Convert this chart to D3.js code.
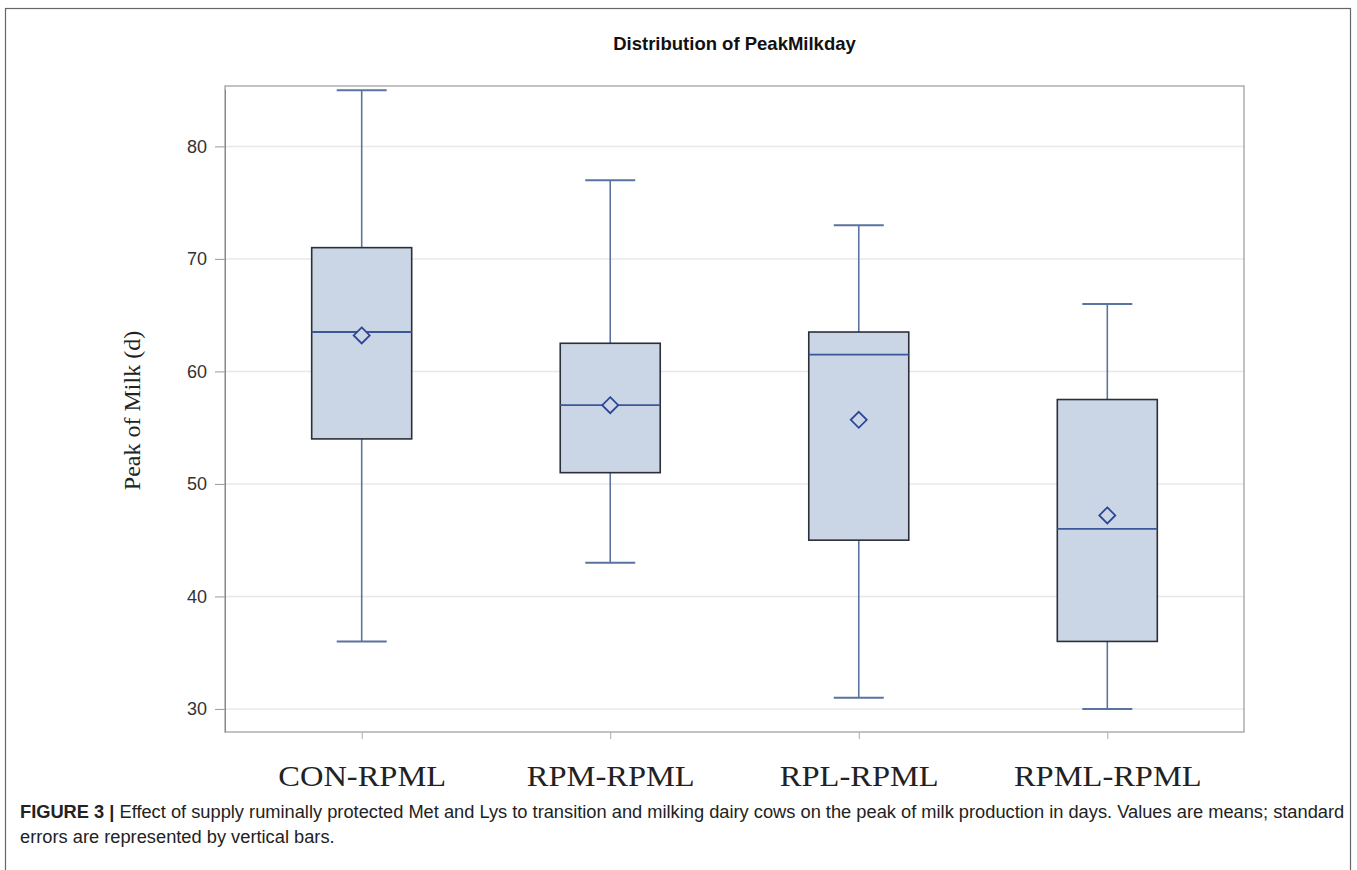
<!DOCTYPE html>
<html>
<head>
<meta charset="utf-8">
<script src="https://cdn.jsdelivr.net/npm/d3@7"></script>
<style>
  body { margin: 0; background: #fff; }
</style>
</head>
<body>
<div id="chart"></div>
<script>
// box plot values
const groups = ["CON-RPML", "RPM-RPML", "RPL-RPML", "RPML-RPML"];
const mins = [36, 43, 31, 30];
const q1s = [54, 51, 45, 36];
const medians = [63.5, 57, 61.5, 46];
const q3s = [71, 62.5, 63.5, 57.5];
const maxs = [85, 77, 73, 66];
const means = [63.2, 57, 55.7, 47.2];
const yTicks = [30, 40, 50, 60, 70, 80];

const W = 1357, H = 870;
const plot = { left: 225, right: 1244, top: 89, bottom: 732 };

const svg = d3.select("#chart").append("svg")
    .attr("width", W)
    .attr("height", H);

// outer frame
svg.append("rect")
    .attr("x", 5.5).attr("y", 8.5)
    .attr("width", 1345).attr("height", 870)
    .attr("fill", "none")
    .attr("stroke", "#666")
    .attr("stroke-width", 1.2);

const x = d3.scalePoint()
    .domain(groups)
    .range([plot.left, plot.right])
    .padding(0.55);

const y = d3.scaleLinear()
    .domain([27.95, 85.1])
    .range([plot.bottom, plot.top]);

// gridlines
svg.append("g").selectAll("line")
    .data(yTicks)
    .enter().append("line")
    .attr("x1", plot.left).attr("x2", plot.right)
    .attr("y1", d => y(d)).attr("y2", d => y(d))
    .attr("stroke", "#e8e8e8")
    .attr("stroke-width", 1.5);

// title
svg.append("text")
    .attr("x", (plot.left + plot.right) / 2)
    .attr("y", 50)
    .attr("text-anchor", "middle")
    .attr("font-family", "Liberation Sans, Arial, sans-serif")
    .attr("font-weight", "bold")
    .attr("font-size", 18.5)
    .attr("fill", "#111")
    .text("Distribution of PeakMilkday");

const data = groups.map((g, i) => ({
    name: g, min: mins[i], q1: q1s[i], med: medians[i], q3: q3s[i], max: maxs[i], mean: means[i]
}));

const boxW = 100, capW = 50;
const whiskerColor = "#5b73a0";
const boxes = svg.append("g").selectAll("g")
    .data(data)
    .enter().append("g")
    .attr("transform", d => `translate(${x(d.name)},0)`);

// whiskers
boxes.append("line")
    .attr("x1", 0).attr("x2", 0)
    .attr("y1", d => y(d.max)).attr("y2", d => y(d.q3))
    .attr("stroke", whiskerColor).attr("stroke-width", 1.6);
boxes.append("line")
    .attr("x1", 0).attr("x2", 0)
    .attr("y1", d => y(d.q1)).attr("y2", d => y(d.min))
    .attr("stroke", whiskerColor).attr("stroke-width", 1.6);
// caps
boxes.append("line")
    .attr("x1", -capW / 2).attr("x2", capW / 2)
    .attr("y1", d => y(d.max)).attr("y2", d => y(d.max))
    .attr("stroke", whiskerColor).attr("stroke-width", 2);
boxes.append("line")
    .attr("x1", -capW / 2).attr("x2", capW / 2)
    .attr("y1", d => y(d.min)).attr("y2", d => y(d.min))
    .attr("stroke", whiskerColor).attr("stroke-width", 2);

// box
boxes.append("rect")
    .attr("x", -boxW / 2)
    .attr("y", d => y(d.q3))
    .attr("width", boxW)
    .attr("height", d => y(d.q1) - y(d.q3))
    .attr("fill", "#cad6e6")
    .attr("stroke", "#2b2f38")
    .attr("stroke-width", 1.6);

// median
boxes.append("line")
    .attr("x1", -boxW / 2).attr("x2", boxW / 2)
    .attr("y1", d => y(d.med)).attr("y2", d => y(d.med))
    .attr("stroke", "#3a5799").attr("stroke-width", 1.8);

// mean diamond
boxes.append("path")
    .attr("d", "M0,-8L8,0L0,8L-8,0Z")
    .attr("transform", d => `translate(0,${y(d.mean)})`)
    .attr("fill", "#cad6e6")
    .attr("stroke", "#2c4596")
    .attr("stroke-width", 1.8);

// plot frame
svg.append("rect")
    .attr("x", plot.left).attr("y", plot.top - 3)
    .attr("width", plot.right - plot.left)
    .attr("height", plot.bottom - plot.top + 3)
    .attr("fill", "none")
    .attr("stroke", "#999")
    .attr("stroke-width", 1.2);

// y axis
const yAxis = svg.append("g")
    .attr("transform", `translate(${plot.left},0)`)
    .call(d3.axisLeft(y).tickValues(yTicks).tickSize(10).tickSizeOuter(0).tickPadding(8));
yAxis.select(".domain").attr("stroke", "#888");
yAxis.selectAll(".tick line").attr("stroke", "#999");
yAxis.selectAll(".tick text")
    .attr("font-family", "Liberation Sans, Arial, sans-serif")
    .attr("font-size", 18)
    .attr("fill", "#333");

// x axis
const xAxis = svg.append("g")
    .attr("transform", `translate(0,${plot.bottom})`)
    .call(d3.axisBottom(x).tickSize(7).tickPadding(0).tickSizeOuter(0));
xAxis.select(".domain").remove();
xAxis.selectAll(".tick line").attr("stroke", "#aaa");
xAxis.selectAll(".tick text")
    .attr("dy", null)
    .attr("y", 54)
    .attr("font-family", "Liberation Serif, Times New Roman, serif")
    .attr("font-size", 29)
    .attr("fill", "#222")
    .each(function () {
        const w = this.getComputedTextLength();
        d3.select(this).attr("textLength", w * 1.12).attr("lengthAdjust", "spacingAndGlyphs");
    });

// y label
svg.append("text")
    .attr("transform", `translate(140,${(plot.top + plot.bottom) / 2}) rotate(-90)`)
    .attr("text-anchor", "middle")
    .attr("font-family", "Liberation Serif, Times New Roman, serif")
    .attr("font-size", 24)
    .attr("fill", "#222")
    .text("Peak of Milk (d)");

// caption: first line spans the frame width, second line uses the same squeeze
const cap = svg.append("g")
    .attr("font-family", "Liberation Sans, Arial, sans-serif")
    .attr("font-size", 18.5)
    .attr("fill", "#222");
const line1 = cap.append("text").attr("x", 0).attr("y", 818);
line1.append("tspan").attr("font-weight", "bold").text("FIGURE 3 | ");
line1.append("tspan").text("Effect of supply ruminally protected Met and Lys to transition and milking dairy cows on the peak of milk production in days. Values are means; standard");
const line2 = cap.append("text").attr("x", 0).attr("y", 843)
    .text("errors are represented by vertical bars.");
const sx = 1325 / line1.node().getComputedTextLength();
cap.attr("transform", `translate(20,0) scale(${sx},1)`);
</script>
</body>
</html>
